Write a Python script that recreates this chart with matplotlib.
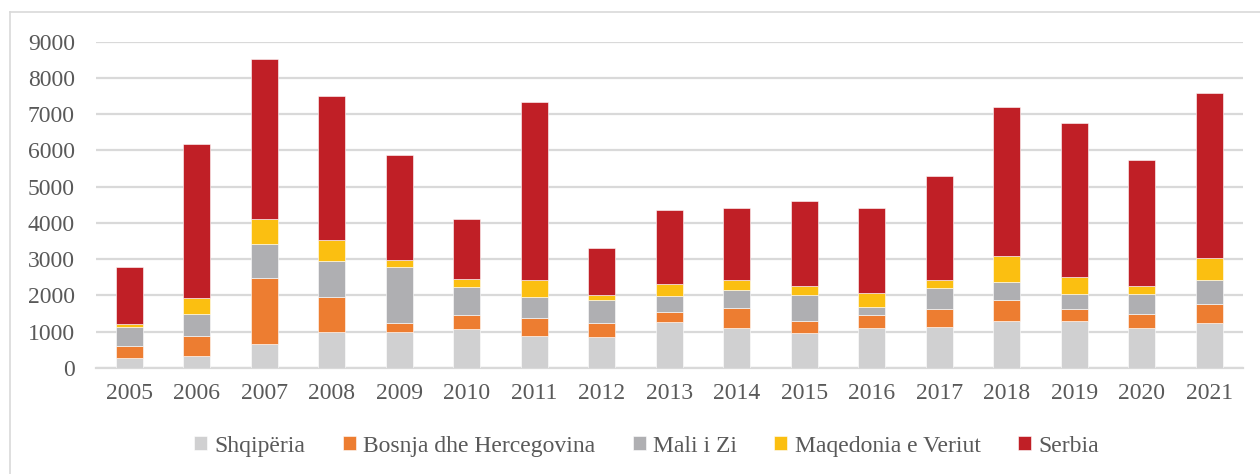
import matplotlib.pyplot as plt
import numpy as np
from matplotlib.lines import Line2D

plt.rcParams['font.family'] = ['Liberation Serif', 'DejaVu Serif']

years = [str(y) for y in range(2005, 2022)]
series_names = ["Shqipëria", "Bosnja dhe Hercegovina", "Mali i Zi",
                "Maqedonia e Veriut", "Serbia"]

shqiperia = [260, 320, 660, 975, 995, 1060, 875, 855, 1260, 1105, 950,
             1105, 1140, 1290, 1290, 1105, 1235]
bosnja = [350, 550, 1820, 985, 250, 395, 490, 385, 285, 550, 350,
          350, 490, 570, 340, 385, 535]
mali = [505, 620, 940, 975, 1525, 765, 580, 625, 450, 505, 710,
        210, 580, 500, 415, 535, 645]
maqedonia = [90, 440, 680, 590, 210, 220, 480, 140, 330, 275, 250,
             395, 200, 725, 460, 230, 615]
serbia = [1575, 4260, 4410, 3975, 2890, 1665, 4920, 1305, 2040, 1985, 2345,
          2345, 2880, 4105, 4250, 3480, 4565]

colors = ["#D0D0D1", "#ED7D31", "#AFAFB2", "#FBBF11", "#C01F26"]
grey_text = "#595959"

fig = plt.figure(figsize=(12.6, 4.74), dpi=100)
ax = fig.add_axes([0.076, 0.224, 0.9105, 0.688])

x = np.arange(len(years))
bottom = np.zeros(len(years))
for name, vals, c in zip(series_names,
                         [shqiperia, bosnja, mali, maqedonia, serbia], colors):
    ax.bar(x, vals, width=0.4, bottom=bottom, color=c, label=name,
           edgecolor="white", linewidth=0.4, zorder=3)
    bottom += np.array(vals)

ax.set_xlim(-0.5, len(years) - 0.5)
ax.set_ylim(0, 9000)
ax.set_yticks(range(0, 9001, 1000))
ax.set_xticks(x)
ax.set_xticklabels(years)
ax.grid(axis="y", color="#D9D9D9", linewidth=1.6, zorder=0)
ax.set_axisbelow(True)
for s in ["top", "right", "left"]:
    ax.spines[s].set_visible(False)
ax.spines["bottom"].set_color("#D9D9D9")
ax.spines["bottom"].set_linewidth(1.6)
ax.tick_params(axis="both", length=0, labelsize=17, colors=grey_text)
ax.tick_params(axis="x", pad=11)
ax.tick_params(axis="y", pad=15)

fig.legend(loc="center", bbox_to_anchor=(0.513, 0.059), ncol=5,
           frameon=False, fontsize=17, labelcolor=grey_text,
           handlelength=0.55, handleheight=0.55, handletextpad=0.3,
           columnspacing=1.6)

# outer frame (left and top edges visible)
fig.add_artist(Line2D([10 / 1260, 10 / 1260], [0, 1 - 12 / 474],
                      transform=fig.transFigure, color="#D9D9D9", lw=1.2))
fig.add_artist(Line2D([10 / 1260, 1], [1 - 12 / 474, 1 - 12 / 474],
                      transform=fig.transFigure, color="#D9D9D9", lw=1.2))

fig.savefig("out.png", dpi=100)
